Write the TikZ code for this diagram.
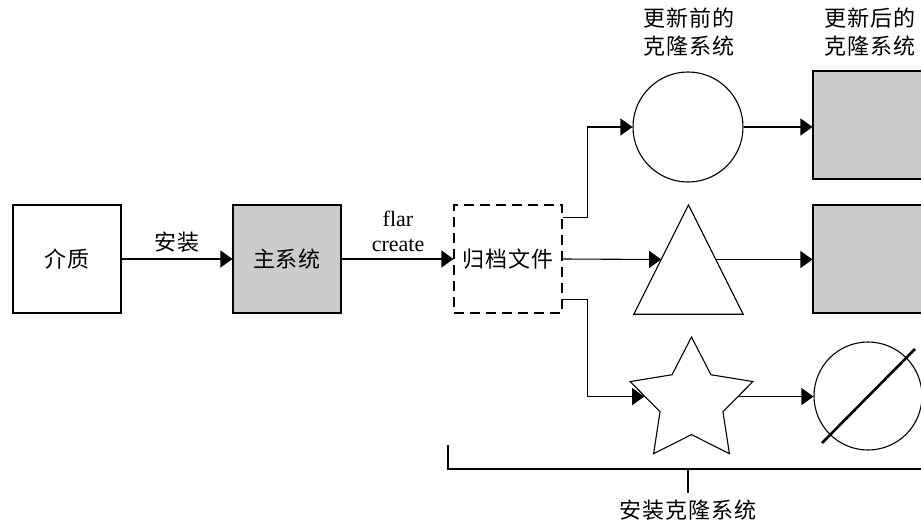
\documentclass[tikz,border=0pt]{standalone}
\usepackage{fontspec}
\setmainfont{Liberation Serif}
\newfontfamily\cjk[LetterSpace=4]{Noto Sans CJK SC}
\usetikzlibrary{arrows.meta,shapes.geometric,calc}
\definecolor{boxgray}{HTML}{CCCCCC}
\tikzset{
  base/.style={line width=1.1pt},
  sqbox/.style={base,draw,rectangle,inner sep=0pt,minimum width=108pt,minimum height=108pt},
  graybox/.style={sqbox,fill=boxgray},
  dashbox/.style={sqbox,dash pattern=on 10pt off 6pt},
  arr/.style={base,-{Triangle[length=12pt,width=17pt]}},
  cjktext/.style={font=\cjk\fontsize{22}{28}\selectfont,inner sep=0pt},
  lattext/.style={font=\fontsize{22}{25}\selectfont,inner sep=0pt,align=center},
}
\begin{document}
\begin{tikzpicture}[x=1pt,y=-1pt]
\useasboundingbox (0,0) rectangle (921,522);
% main chain
\node[sqbox,cjktext] (med) at (67,259) {介质};
\node[graybox,cjktext] (host) at (287,259) {主系统};
\node[dashbox,cjktext] (arch) at (508,259) {归档文件};
\draw[arr] (med) -- node[cjktext,above=6pt] (inst) {安装} (host);
\draw[arr] (host) -- (arch);
\node[lattext] (flar) at (398,231) {flar\\create};
% clone shapes
\node[base,draw,circle,inner sep=0pt,minimum size=110pt] (circ) at (688,127) {};
\node[inner sep=0pt,minimum width=109pt,minimum height=109pt] (tri) at (688.5,259.5) {};
\draw[base,line join=miter] (tri.south west) -- (tri.north) -- (tri.south east) -- cycle;
\node[base,draw,star,star points=5,star point ratio=1.95,minimum size=129pt,inner sep=0pt] (st) at (691.5,401.5) {};
% updated clones
\node[graybox,minimum width=112pt] (sqa) at (869,125) {};
\node[graybox,minimum width=112pt] (sqb) at (869,259) {};
\node[base,draw,circle,inner sep=0pt,minimum size=108pt] (nop) at (868,396) {};
\draw[line width=2.6pt] ($(nop.center)+(-46,47)$) -- ($(nop.center)+(47,-47)$);
% labels
\node[cjktext,align=center] (lbefore) at (689,32) {更新前的\\克隆系统};
\node[cjktext,align=center] (lafter) at (870,32) {更新后的\\克隆系统};
% branches
\coordinate (ptop) at ($(arch.north east)+(0,13)$);
\coordinate (pbot) at ($(arch.south east)+(0,-14)$);
\coordinate (triin) at ($(tri.south west)!0.5!(tri.north)$);
\coordinate (triout) at ($(tri.south east)!0.5!(tri.north)$);
\coordinate (stin) at ($(st.outer point 2)!0.5!(st.inner point 2)$);
\coordinate (stout) at ($(st.outer point 5)!0.5!(st.inner point 4)$);
\draw[arr] (ptop) -- ++(25,0) |- (circ.west);
\draw[arr] (arch.east) -- (triin);
\draw[arr] (pbot) -- ++(25,0) |- (stin);
\draw[arr] (circ.east) -- (circ.east -| sqa.west);
\draw[arr] (triout) -- (triout -| sqb.west);
\draw[arr] (stout) -- (stout -| nop.west);
% bracket
\coordinate (brl) at (448,445);
\coordinate (brc) at (688,469);
\coordinate (brr) at (925,469);
\draw[base] (brl) |- (brr);
\draw[base] (brc) -- ++(0,24) node[cjktext,below=6pt] (lclone) {安装克隆系统};
\end{tikzpicture}
\end{document}
